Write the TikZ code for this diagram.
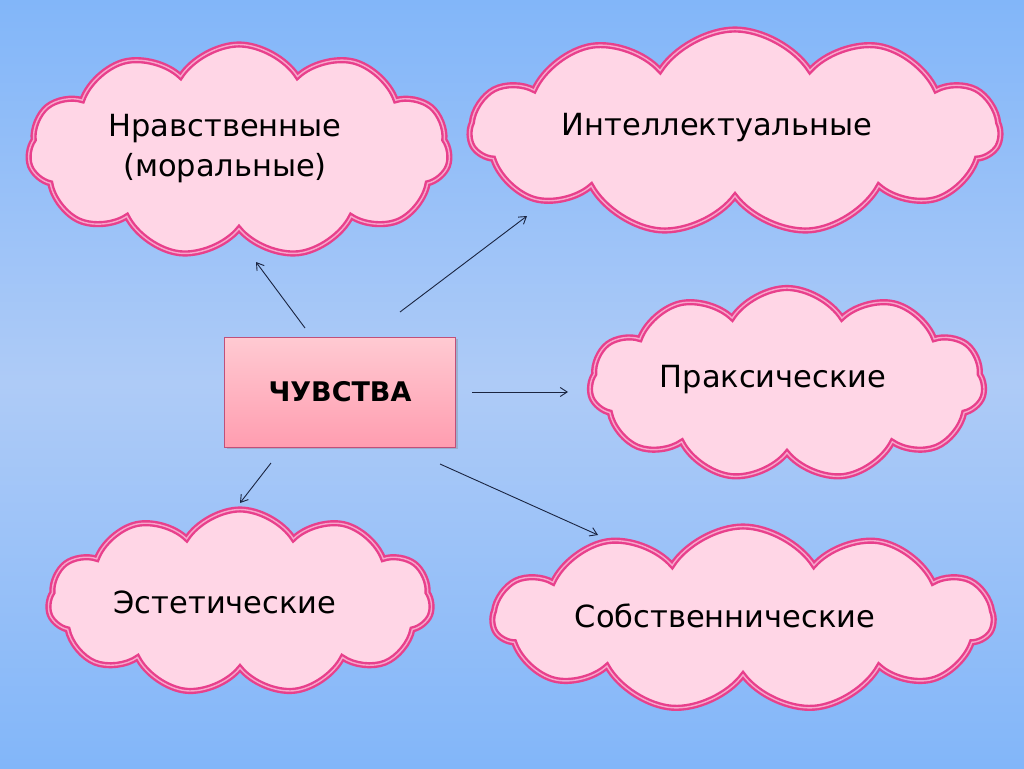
\documentclass[tikz,border=0pt]{standalone}
\usepackage{fontspec}
\setmainfont{DejaVu Sans}
\usetikzlibrary{shapes.symbols,shadows,arrows.meta}
\definecolor{bgedge}{HTML}{82B6F9}
\definecolor{bgmid}{HTML}{AECBF7}
\definecolor{cloudline}{HTML}{E8408C}
\definecolor{cloudinner}{HTML}{F7A6CC}
\definecolor{cloudfill}{HTML}{FFD6E6}
\definecolor{boxtop}{HTML}{FFCAD2}
\definecolor{boxbot}{HTML}{FF9DB0}
\definecolor{boxline}{HTML}{C0507A}
\definecolor{arrowcol}{HTML}{1A2440}
\tikzset{
  cloudbox/.style={cloud, cloud puffs=11, cloud puff arc=115, cloud ignores aspect,
    draw=cloudline, line width=2.4pt, double=cloudinner, double distance=1.4pt,
    fill=cloudfill, inner sep=0pt},
  cloudtext/.style={align=center, font=\fontsize{30.5}{40}\selectfont, inner sep=0pt},
  mainbox/.style={rectangle, draw=boxline, line width=0.8pt, top color=boxtop, bottom color=boxbot,
    minimum width=231pt, minimum height=110pt, font=\bfseries\fontsize{27}{32}\selectfont,
    drop shadow={shadow xshift=2pt, shadow yshift=-2pt, opacity=0.35}},
  conn/.style={-{Straight Barb[length=7pt,width=9pt]}, draw=arrowcol, line width=0.9pt}
}
\begin{document}
\begin{tikzpicture}[x=1pt,y=-1pt]
\useasboundingbox (0,0) rectangle (1024,768);
\shade[top color=bgedge, bottom color=bgedge, middle color=bgmid] (0,0) rectangle (1024,768);
% clouds
\node[cloudbox, minimum width=422pt, minimum height=213pt] (c1) at (239,151) {};
\node[cloudbox, minimum width=530pt, minimum height=205pt] (c2) at (735,132) {};
\node[cloudbox, minimum width=395pt, minimum height=192pt] (c3) at (787,384) {};
\node[cloudbox, minimum width=384pt, minimum height=185pt] (c4) at (240,602) {};
\node[cloudbox, minimum width=500pt, minimum height=185pt] (c5) at (743,619) {};
\node[cloudtext] (t1) at (225,149) {Нравственные\\(моральные)};
\node[cloudtext] (t2) at (717,128) {Интеллектуальные};
\node[cloudtext] (t3) at (773,380) {Праксические};
\node[cloudtext] (t4) at (225,602) {Эстетические};
\node[cloudtext] (t5) at (725,616) {Собственнические};
% central box
\node[mainbox] (m) at (340,392) {ЧУВСТВА};
% arrow endpoints
\coordinate (s1) at (305,328); \coordinate (e1) at (256,262);
\coordinate (s2) at (400,312); \coordinate (e2) at (527,216);
\coordinate (s3) at (472,392); \coordinate (e3) at (568,392);
\coordinate (s4) at (271,463); \coordinate (e4) at (240,503);
\coordinate (s5) at (440,464); \coordinate (e5) at (598,535);
\draw[conn] (s1) -- (e1);
\draw[conn] (s2) -- (e2);
\draw[conn] (s3) -- (e3);
\draw[conn] (s4) -- (e4);
\draw[conn] (s5) -- (e5);
\end{tikzpicture}
\end{document}
